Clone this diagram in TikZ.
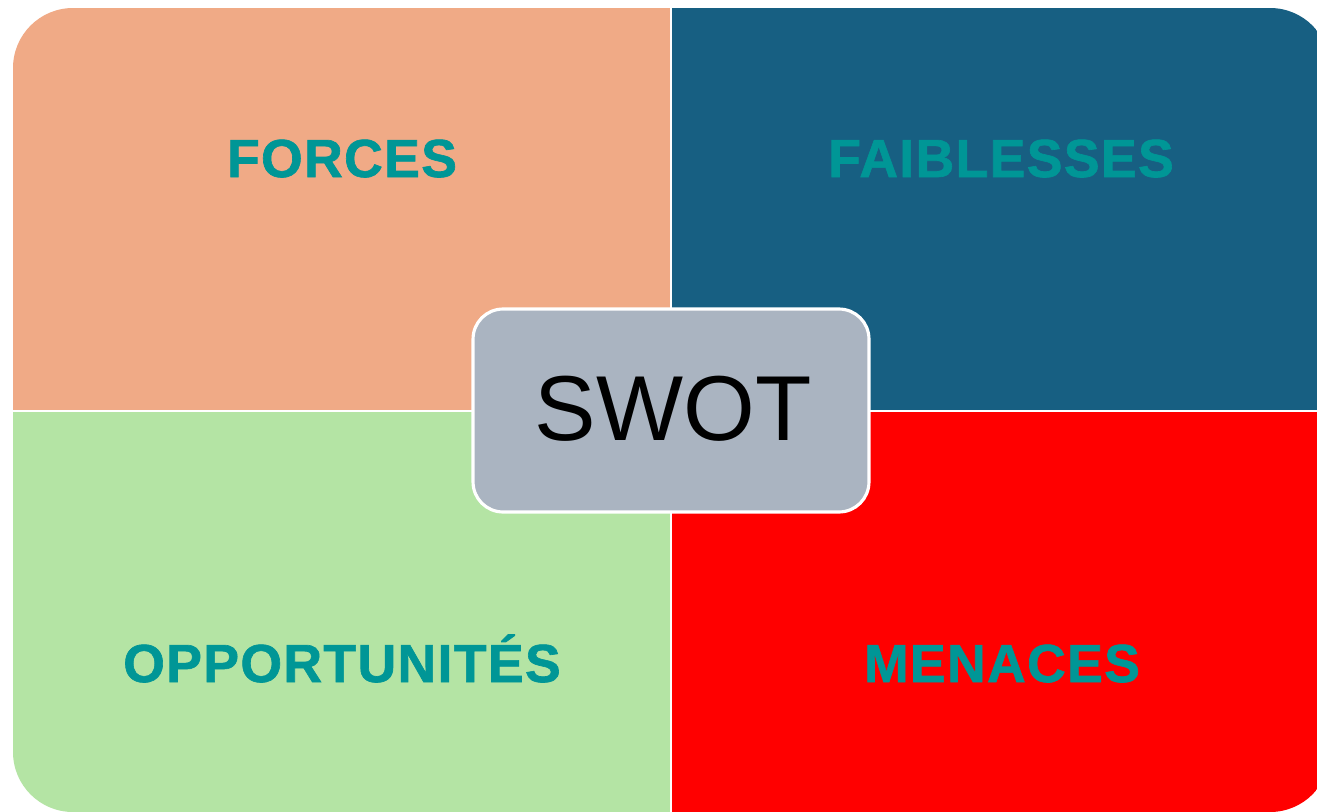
\documentclass[tikz,border=0pt]{standalone}
\usepackage{fontspec}
\setmainfont{Liberation Sans}
\newfontfamily\titlefont[LetterSpace=2.5,FakeBold=1.2]{Liberation Sans}
\usetikzlibrary{positioning}
\definecolor{forcesc}{RGB}{240,170,134}
\definecolor{faiblessesc}{RGB}{23,95,130}
\definecolor{opportc}{RGB}{180,228,164}
\definecolor{menacesc}{RGB}{255,0,0}
\definecolor{titlec}{RGB}{0,150,150}
\definecolor{swotc}{RGB}{170,180,193}

\begin{document}
\begin{tikzpicture}[x=0.02cm,y=-0.02cm,
  quadtitle/.style={font=\titlefont\bfseries\fontsize{30.5}{36}\selectfont,text=titlec,anchor=base},
  swotbox/.style={rectangle,rounded corners=0.6cm,fill=swotc,draw=white,line width=1.8pt,
    minimum width=7.92cm,minimum height=4.06cm},
  swottext/.style={font=\fontsize{52.5}{60}\selectfont,text=black,anchor=base}]
\useasboundingbox (0,0) rectangle (1317,811);
\fill[white] (0,0) rectangle (1317,811);

\begin{scope}
\clip[rounded corners=1.2cm] (13,8) rectangle (1330,812);
\fill[forcesc] (13,8) rectangle (670,410);
\fill[faiblessesc] (672,8) rectangle (1330,410);
\fill[opportc] (13,412) rectangle (670,812);
\fill[menacesc] (672,412) rectangle (1330,812);
\end{scope}

\node[quadtitle] (forces) at (342,177) {FORCES};
\node[quadtitle] (faiblesses) at (1001,177) {FAIBLESSES};
\node[quadtitle] (opport) at (342,682) {OPPORTUNITÉS};
\node[quadtitle] (menaces) at (1002,682) {MENACES};

\node[swotbox] (swot) at (671,410.5) {};
\node[swottext] (swotlabel) at (673,440) {SWOT};

\end{tikzpicture}
\end{document}
